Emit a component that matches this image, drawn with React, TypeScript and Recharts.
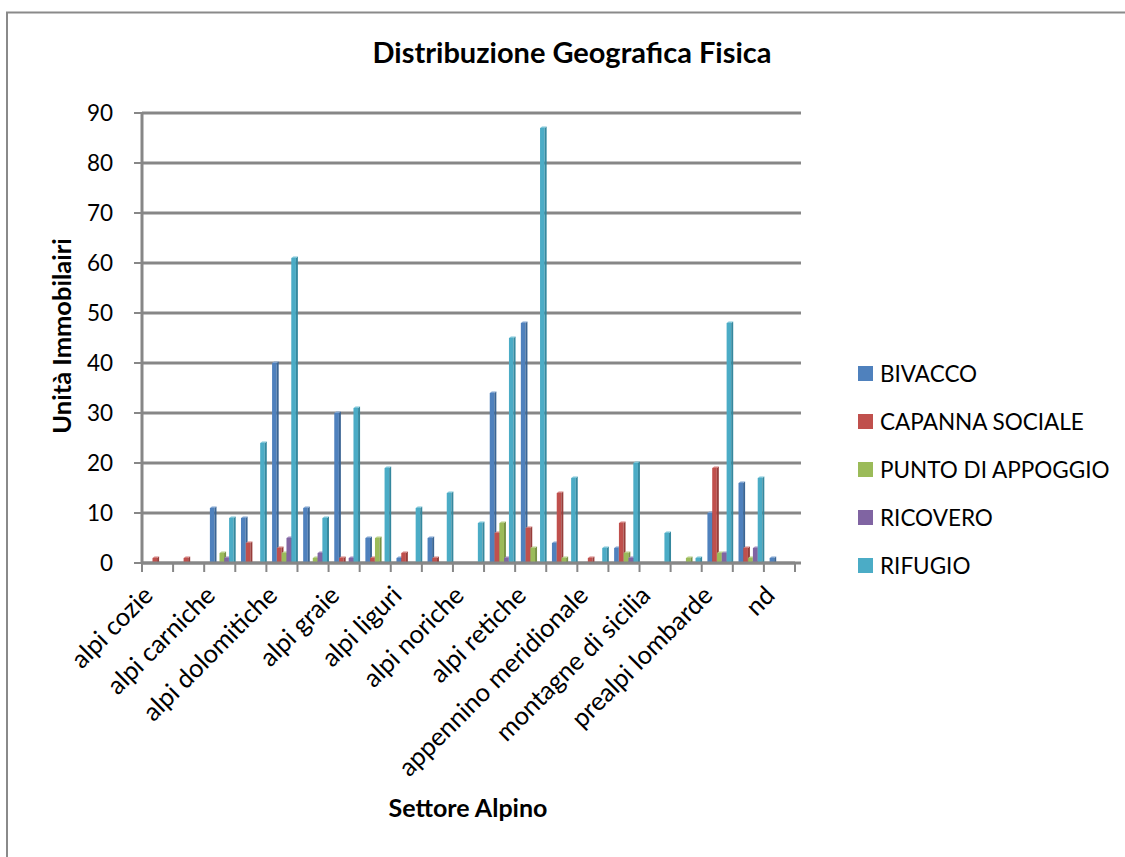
import React from 'react';
import {
  BarChart,
  Bar,
  XAxis,
  YAxis,
  CartesianGrid,
  Legend,
  Customized,
} from 'recharts';

// Settori alpini (labels drawn every other category)
const SETTORI = [
  'alpi cozie',
  'alpi apuane',
  'alpi carniche',
  'alpi cozie meridionali',
  'alpi dolomitiche',
  'alpi giulie',
  'alpi graie',
  'alpi lepontine',
  'alpi liguri',
  'alpi marittime',
  'alpi noriche',
  'alpi pennine',
  'alpi retiche',
  'appennino centrale',
  'appennino meridionale',
  'appennino settentrionale',
  'montagne di sicilia',
  'prealpi giulie',
  'prealpi lombarde',
  'prealpi venete',
  'nd',
];

const BIVACCO = [0, 0, 11, 9, 40, 11, 30, 5, 1, 5, 0, 34, 48, 4, 0, 3, 0, 0, 10, 16, 1];
const CAPANNA_SOCIALE = [1, 1, 0, 4, 3, 0, 1, 1, 2, 1, 0, 6, 7, 14, 1, 8, 0, 0, 19, 3, 0];
const PUNTO_DI_APPOGGIO = [0, 0, 2, 0, 2, 1, 0, 5, 0, 0, 0, 8, 3, 1, 0, 2, 0, 1, 2, 1, 0];
const RICOVERO = [0, 0, 1, 0, 5, 2, 1, 0, 0, 0, 0, 1, 0, 0, 0, 1, 0, 0, 2, 3, 0];
const RIFUGIO = [0, 0, 9, 24, 61, 9, 31, 19, 11, 14, 8, 45, 87, 17, 3, 20, 6, 1, 48, 17, 0];

const Y_TICKS = [0, 10, 20, 30, 40, 50, 60, 70, 80, 90];

const SERIES_KEYS = ['bivacco', 'capanna', 'punto', 'ricovero', 'rifugio'];
const SERIES_NAMES = ['BIVACCO', 'CAPANNA SOCIALE', 'PUNTO DI APPOGGIO', 'RICOVERO', 'RIFUGIO'];
const SERIES_COLORS = ['#4F81BD', '#C0504D', '#9BBB59', '#8064A2', '#4BACC6'];
const SERIES_SIDE = ['#3A6594', '#973D3A', '#789244', '#614B7E', '#35889E'];
const SERIES_TOP = ['#7FA3D0', '#D4807E', '#B8D088', '#A18BBE', '#7DC5D8'];

const data = SETTORI.map((name, i) => ({
  name,
  bivacco: BIVACCO[i],
  capanna: CAPANNA_SOCIALE[i],
  punto: PUNTO_DI_APPOGGIO[i],
  ricovero: RICOVERO[i],
  rifugio: RIFUGIO[i],
}));

const FONT = 'Lato, "Liberation Sans", sans-serif';
const AXIS_GRAY = '#878787';

const W = 1125;
const H = 857;
const MARGIN = { top: 113, right: 330, bottom: 254, left: 82 };
const Y_AXIS_W = 60;
const X_AXIS_H = 40;
const PLOT_LEFT = MARGIN.left + Y_AXIS_W;
const PLOT_RIGHT = W - MARGIN.right;
const PLOT_BOTTOM = H - MARGIN.bottom - X_AXIS_H;
const BAND = (PLOT_RIGHT - PLOT_LEFT) / SETTORI.length;

// column with a small right face and top cap, like a shallow 3D bar
function Column3D(props: any) {
  const { x, y, width, height, fill, side, cap } = props;
  if (!height || height <= 0) return null;
  const X = x + 1.7;
  const d = 2;
  const r = 1.5;
  return (
    <g>
      <rect x={X} y={y} width={width} height={height} fill={fill} />
      <polygon
        points={`${X + width},${y} ${X + width + d},${y - r} ${X + width + d},${y + height} ${X + width},${y + height}`}
        fill={side}
      />
      <polygon
        points={`${X},${y} ${X + d},${y - r} ${X + width + d},${y - r} ${X + width},${y}`}
        fill={cap}
      />
    </g>
  );
}

function CategoryTick(props: any) {
  const { x, index, payload } = props;
  const left = x - BAND / 2;
  const last = index === SETTORI.length - 1;
  const lx = x - 3;
  const ly = 597;
  return (
    <g>
      <line x1={left} x2={left} y1={PLOT_BOTTOM} y2={PLOT_BOTTOM + 9} stroke={AXIS_GRAY} strokeWidth={2} />
      {last && (
        <line
          x1={x + BAND / 2}
          x2={x + BAND / 2}
          y1={PLOT_BOTTOM}
          y2={PLOT_BOTTOM + 9}
          stroke={AXIS_GRAY}
          strokeWidth={2}
        />
      )}
      {index % 2 === 0 && (
        <text
          x={lx}
          y={ly}
          textAnchor="end"
          transform={`rotate(-45, ${lx}, ${ly})`}
          fontFamily={FONT}
          fontSize={25.5}
          fill="#000"
        >
          {payload.value}
        </text>
      )}
    </g>
  );
}

function GridLine(p: any) {
  return (
    <line
      key={p.key}
      x1={p.x1}
      y1={p.y1}
      x2={p.x2 + 6}
      y2={p.y2}
      stroke={AXIS_GRAY}
      strokeWidth={3}
    />
  );
}

function Decor() {
  return (
    <g>
      <path d={`M7,${H + 5} L7,12.5 L${W + 5},12.5`} fill="none" stroke="#8a8a8a" strokeWidth={2} />
      <text x={572} y={63} textAnchor="middle" fontFamily={FONT} fontWeight="bold" fontSize={29} fill="#000">
        Distribuzione Geografica Fisica
      </text>
      <text
        x={71}
        y={336}
        textAnchor="middle"
        transform="rotate(-90, 71, 336)"
        fontFamily={FONT}
        fontWeight="bold"
        fontSize={25.5}
        fill="#000"
      >
        Unità Immobilairi
      </text>
      <text x={468} y={817} textAnchor="middle" fontFamily={FONT} fontWeight="bold" fontSize={25} fill="#000">
        Settore Alpino
      </text>
    </g>
  );
}

function LegendBox() {
  return (
    <div style={{ fontFamily: FONT, fontSize: 22.5, color: '#000' }}>
      {SERIES_NAMES.map((name, i) => (
        <div key={name} style={{ display: 'flex', alignItems: 'center', height: 48 }}>
          <span
            style={{
              display: 'inline-block',
              width: 15,
              height: 15,
              background: SERIES_COLORS[i],
              marginRight: 7,
            }}
          />
          <span style={{ whiteSpace: 'nowrap' }}>{name}</span>
        </div>
      ))}
    </div>
  );
}

export default function App() {
  return (
    <div style={{ position: 'absolute', left: 0, top: 0, width: W, height: H, background: '#fff' }}>
      <BarChart
        width={W}
        height={H}
        data={data}
        margin={MARGIN}
        barSize={4.6}
        barGap={0.2}
      >
        <CartesianGrid vertical={false} horizontal={GridLine as any} />
        <XAxis
          dataKey="name"
          interval={0}
          height={X_AXIS_H}
          tickLine={false}
          axisLine={{ stroke: AXIS_GRAY, strokeWidth: 3 }}
          tick={<CategoryTick />}
        />
        <YAxis
          width={Y_AXIS_W}
          domain={[0, 90]}
          ticks={Y_TICKS}
          tickSize={8}
          tickMargin={21}
          tickLine={{ stroke: AXIS_GRAY, strokeWidth: 2 }}
          axisLine={{ stroke: AXIS_GRAY, strokeWidth: 3 }}
          tick={{ fontFamily: FONT, fontSize: 22.5, fill: '#000' }}
        />
        {SERIES_KEYS.map((k, i) => (
          <Bar
            key={k}
            dataKey={k}
            name={SERIES_NAMES[i]}
            fill={SERIES_COLORS[i]}
            isAnimationActive={false}
            shape={(p: any) => <Column3D {...p} side={SERIES_SIDE[i]} cap={SERIES_TOP[i]} />}
          />
        ))}
        <Legend
          layout="vertical"
          align="center"
          verticalAlign="middle"
          wrapperStyle={{ left: 858, top: 349.5, width: 267 }}
          content={<LegendBox />}
        />
        <Customized component={<Decor />} />
      </BarChart>
    </div>
  );
}
